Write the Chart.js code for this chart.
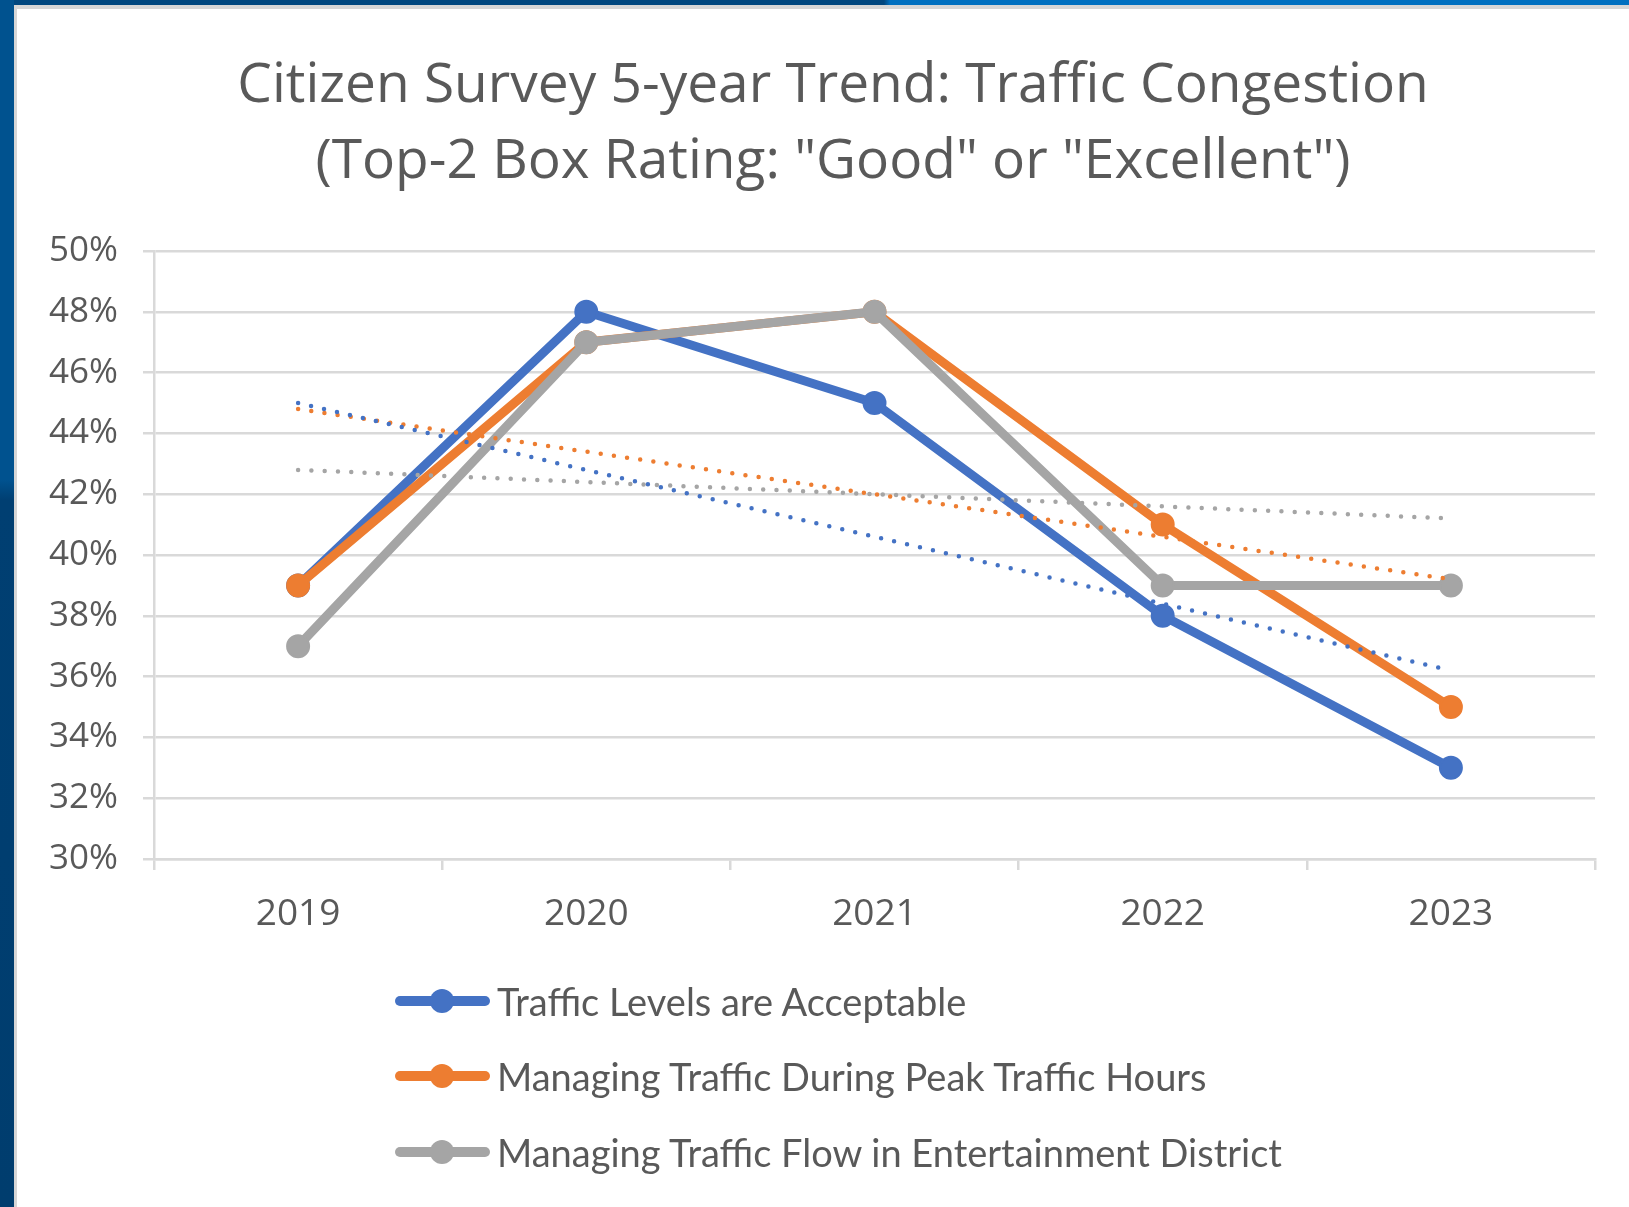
<!DOCTYPE html>
<html>
<head>
<meta charset="utf-8">
<title>Citizen Survey 5-year Trend: Traffic Congestion</title>
<script src="https://cdn.jsdelivr.net/npm/chart.js@4.4.1/dist/chart.umd.min.js"></script>
<style>
  html, body { margin: 0; padding: 0; background: #fff; }
  #page { position: relative; width: 1629px; height: 1207px; overflow: hidden; background: #fff; }
  #topBar { position: absolute; left: 0; top: 0; width: 1629px; height: 5px;
    background: linear-gradient(to right, #00477f 0, #00477f 884px, #0070c0 890px, #0070c0 100%); }
  #leftBar { position: absolute; left: 0; top: 0; width: 14px; height: 1207px;
    background: linear-gradient(to bottom, #00528f 0, #00528f 480px, #003f72 500px, #003d6e 100%); }
  #card { position: absolute; left: 14px; top: 5px; width: 1620px; height: 1210px;
    border-left: 3px solid #d6d6d6; border-top: 4px solid #d6d6d6; background: #fff; }
  #chartBox { position: absolute; left: 0; top: 0; width: 1629px; height: 960px; }
  #legend { position: absolute; left: 0; top: 0; width: 1629px; height: 1207px; pointer-events: none; }
  .item { position: absolute; left: 395px; height: 40px; display: flex; align-items: center; }
  .swatch { position: relative; width: 95px; height: 40px; }
  .swatch .bar { position: absolute; left: 0; top: 15px; width: 95px; height: 10px; border-radius: 5px; }
  .swatch .dot { position: absolute; left: 35px; top: 8px; width: 24px; height: 24px; border-radius: 50%; }
  .label { margin-left: 7px; font-family: Lato, sans-serif; font-size: 38px; color: #595959; white-space: nowrap; }
</style>
</head>
<body>
<div id="page">
  <div id="topBar"></div>
  <div id="leftBar"></div>
  <div id="card"></div>
  <div id="chartBox"><canvas id="trendChart" width="1629" height="960"></canvas></div>
  <div id="legend"></div>
</div>
<script>
const years = ["2019", "2020", "2021", "2022", "2023"];
const seriesNames = [
  "Traffic Levels are Acceptable",
  "Managing Traffic During Peak Traffic Hours",
  "Managing Traffic Flow in Entertainment District"
];
const seriesColors = ["#4472c4", "#ed7d31", "#a5a5a5"];

// percent of "Good" or "Excellent"
const acceptable = [39, 48, 45, 38, 33];
const peakHours = [39, 47, 48, 41, 35];
const entertainment = [37, 47, 48, 39, 39];

// dotted linear trendlines, ends (2019 and 2023)
const acceptableTrend = [45.0, null, null, null, 36.2];
const peakHoursTrend = [44.8, null, null, null, 39.2];
const entertainmentTrend = [42.8, null, null, null, 41.2];

const yMin = 30;
const yMax = 50;
const yStep = 2;

const titleLines = [
  "Citizen Survey 5-year Trend: Traffic Congestion",
  "(Top-2 Box Rating: \"Good\" or \"Excellent\")"
];

const textColor = "#595959";
const gridColor = "#d9d9d9";

function seriesDataset(label, data, color, order) {
  return {
    label: label,
    data: data,
    borderColor: color,
    backgroundColor: color,
    borderWidth: 9,
    pointRadius: 11,
    pointBorderWidth: 2,
    pointBorderColor: color,
    pointBackgroundColor: color,
    tension: 0,
    fill: false,
    order: order
  };
}

function trendDataset(label, data, color) {
  return {
    label: label,
    data: data,
    isTrend: true,
    borderColor: color,
    borderWidth: 4.5,
    borderDash: [0, 13.3],
    borderCapStyle: "round",
    pointRadius: 0,
    spanGaps: true,
    tension: 0,
    fill: false,
    order: 0
  };
}

const datasets = [
  seriesDataset(seriesNames[0], acceptable, seriesColors[0], 3),
  seriesDataset(seriesNames[1], peakHours, seriesColors[1], 2),
  seriesDataset(seriesNames[2], entertainment, seriesColors[2], 1),
  trendDataset("Linear (" + seriesNames[0] + ")", acceptableTrend, seriesColors[0]),
  trendDataset("Linear (" + seriesNames[1] + ")", peakHoursTrend, seriesColors[1]),
  trendDataset("Linear (" + seriesNames[2] + ")", entertainmentTrend, seriesColors[2])
];

// the y labels stick out left of the padded box, so let them draw there
const widenYLabels = {
  id: "widenYLabels",
  afterLayout(chart) {
    chart.scales.y.left = 0;
  }
};

const chart = new Chart(document.getElementById("trendChart").getContext("2d"), {
  type: "line",
  data: { labels: years, datasets: datasets },
  plugins: [widenYLabels],
  options: {
    responsive: false,
    animation: false,
    layout: { padding: { left: 71, right: 34, top: 0, bottom: 0 } },
    plugins: {
      legend: { display: false },
      tooltip: { enabled: false },
      title: {
        display: true,
        text: titleLines,
        color: textColor,
        font: { family: "'Open Sans', sans-serif", size: 55, weight: "normal", lineHeight: 76 / 55 },
        padding: { top: 48, bottom: 51 }
      }
    },
    scales: {
      x: {
        type: "category",
        offset: true,
        afterFit: (scale) => { scale.height = 101; },
        grid: { offset: true, drawOnChartArea: false, drawTicks: true, tickLength: 11, color: gridColor, lineWidth: 2.5 },
        border: { display: true, color: gridColor, width: 2.5 },
        ticks: { color: textColor, padding: 22, font: { family: "'Open Sans', sans-serif", size: 37 } }
      },
      y: {
        min: yMin,
        max: yMax,
        afterFit: (scale) => { scale.width = 83; },
        grid: { color: gridColor, lineWidth: 2.5, drawTicks: true, tickLength: 11 },
        border: { display: true, color: gridColor, width: 2.5 },
        ticks: {
          stepSize: yStep,
          autoSkip: false,
          padding: 25,
          color: textColor,
          font: { family: "'Open Sans', sans-serif", size: 35 },
          callback: (v) => v + "%"
        }
      }
    }
  }
});

// legend built from the chart's own datasets (trendlines left out)
const legendEl = document.getElementById("legend");
const rowCenters = [1001, 1076, 1152];
chart.data.datasets.filter(d => !d.isTrend).forEach((d, i) => {
  const item = document.createElement("div");
  item.className = "item";
  item.style.top = (rowCenters[i] - 20) + "px";
  item.innerHTML = `
    <div class="swatch">
      <div class="bar" style="background:${d.borderColor}"></div>
      <div class="dot" style="background:${d.borderColor}"></div>
    </div>
    <div class="label">${d.label}</div>
  `;
  legendEl.appendChild(item);
});
</script>
</body>
</html>
